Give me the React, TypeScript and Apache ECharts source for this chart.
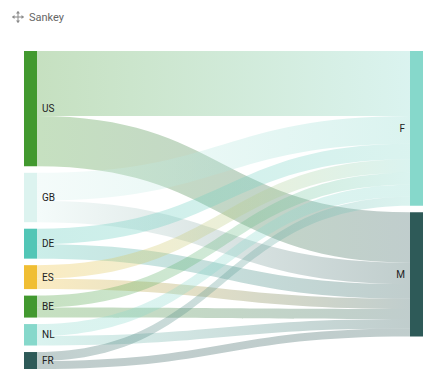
import React, { useEffect, useRef } from "react";
import * as echarts from "echarts";

const sources = ["US", "GB", "DE", "ES", "BE", "NL", "FR"];
const targets = ["F", "M"];
const toF = [65, 28, 15.5, 13.5, 12, 12, 9];
const toM = [50.5, 21.5, 14.5, 10.5, 10, 9.5, 8];
const sourceColors = ["#42992f", "#dcf3ef", "#52c6b6", "#f0be33", "#42992f", "#86d8cb", "#2e5a58"];
const targetColors = ["#86d8cb", "#2e5a58"];

export default function App() {
  const ref = useRef<HTMLDivElement>(null);
  useEffect(() => {
    if (!ref.current) return;
    const chart = echarts.init(ref.current, undefined, { renderer: "svg" });
    const nodes = [
      ...sources.map((n, i) => ({
        name: n,
        itemStyle: { color: sourceColors[i] },
        label: { position: "right" as const },
      })),
      ...targets.map((n, i) => ({
        name: n,
        itemStyle: { color: targetColors[i] },
        label: { position: "left" as const },
      })),
    ];
    const links: any[] = [];
    sources.forEach((s, i) => {
      links.push({ source: s, target: "F", value: toF[i] });
      links.push({ source: s, target: "M", value: toM[i] });
    });
    const c = "#8a8a8a";
    chart.setOption({
      animation: false,
      graphic: [
        { type: "line", shape: { x1: 12.5, y1: 17, x2: 23.5, y2: 17 }, style: { stroke: c, lineWidth: 1 } },
        { type: "line", shape: { x1: 18, y1: 11.5, x2: 18, y2: 22.5 }, style: { stroke: c, lineWidth: 1 } },
        { type: "polygon", shape: { points: [[12, 17], [14.5, 15], [14.5, 19]] }, style: { fill: c } },
        { type: "polygon", shape: { points: [[24, 17], [21.5, 15], [21.5, 19]] }, style: { fill: c } },
        { type: "polygon", shape: { points: [[18, 11], [16, 13.5], [20, 13.5]] }, style: { fill: c } },
        { type: "polygon", shape: { points: [[18, 23], [16, 20.5], [20, 20.5]] }, style: { fill: c } },
        {
          type: "text",
          x: 29,
          y: 11.5,
          style: { text: "Sankey", fill: "#666", font: "11px Roboto, sans-serif" },
        },
      ],
      series: [
        {
          type: "sankey",
          left: 24,
          top: 51,
          right: 16,
          bottom: 9,
          nodeWidth: 13,
          nodeGap: 6.5,
          layoutIterations: 0,
          draggable: false,
          emphasis: { disabled: true },
          data: nodes,
          links,
          label: { color: "#222", fontSize: 10, fontFamily: "Roboto, sans-serif", distance: 5 },
          lineStyle: { color: "gradient", opacity: 0.3, curveness: 0.5 },
          itemStyle: { borderWidth: 0 },
        },
      ],
    });
    return () => chart.dispose();
  }, []);
  return (
    <div
      ref={ref}
      style={{ position: "absolute", left: 0, top: 0, width: 439, height: 378 }}
    />
  );
}
